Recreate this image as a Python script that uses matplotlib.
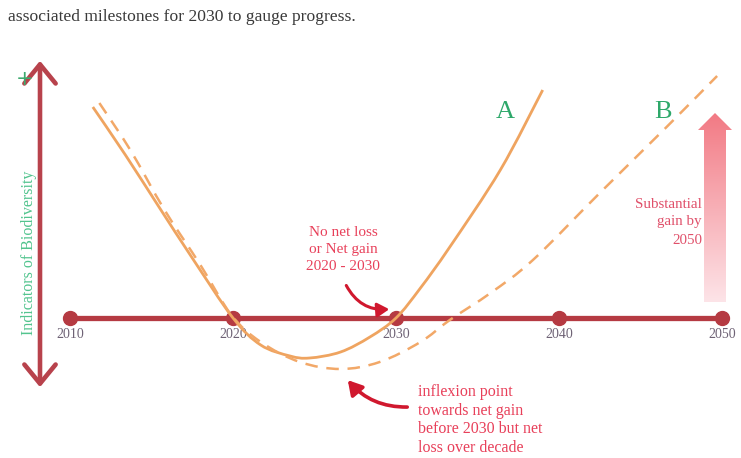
import numpy as np
import matplotlib
matplotlib.use("Agg")
import matplotlib.pyplot as plt
from matplotlib.patches import FancyArrowPatch, Polygon, PathPatch
from matplotlib.path import Path
from matplotlib.colors import LinearSegmentedColormap

# ---- data (years vs. indicator level) ----
years_a = [2011.4, 2013.4, 2015.5, 2017.5, 2020.0, 2021.7, 2023.5, 2024.7, 2026.6, 2028.4, 2030.0, 2031.5, 2033.3, 2036.4, 2039.0]
vals_a = [2.11, 1.63, 1.10, 0.60, 0.00, -0.27, -0.38, -0.40, -0.34, -0.19, 0.00, 0.30, 0.71, 1.48, 2.28]

years_b = [2011.8, 2013.7, 2015.8, 2018.0, 2019.9, 2021.7, 2024.1, 2026.6, 2029.0, 2031.5, 2033.3, 2035.8, 2038.4, 2042.5, 2046.6, 2049.7]
vals_b = [2.15, 1.68, 1.08, 0.53, 0.03, -0.24, -0.44, -0.51, -0.44, -0.24, -0.02, 0.25, 0.58, 1.25, 1.91, 2.42]

milestones = [2010, 2020, 2030, 2040, 2050]
milestone_labels = ["2010", "2020", "2030", "2040", "2050"]

W, H = 741, 458
fig = plt.figure(figsize=(W / 100, H / 100), dpi=100)
ax = fig.add_axes([0, 0, 1, 1])
PX_PER_YEAR = 16.3
X0_PX = 70
Y0_PX = 318
PX_PER_UNIT = 100.0
XL = (2010 - X0_PX / PX_PER_YEAR, 2010 + (W - X0_PX) / PX_PER_YEAR)
YL = ((Y0_PX - H) / PX_PER_UNIT, Y0_PX / PX_PER_UNIT)
ax.set_xlim(*XL)
ax.set_ylim(*YL)
ax.axis("off")


def P(px, py):
    """pixel position -> data coords (for decorations)"""
    return (2010 + (px - X0_PX) / PX_PER_YEAR, (Y0_PX - py) / PX_PER_UNIT)


def smooth_path(xs, ys):
    """Catmull-Rom rendering of the read points as a cubic Bezier path."""
    pts = np.column_stack([xs, ys]).astype(float)
    verts = [pts[0]]
    codes = [Path.MOVETO]
    n = len(pts)
    for i in range(n - 1):
        p0 = pts[i - 1] if i > 0 else pts[i]
        p1, p2 = pts[i], pts[i + 1]
        p3 = pts[i + 2] if i + 2 < n else pts[i + 1]
        c1 = p1 + (p2 - p0) / 6.0
        c2 = p2 - (p3 - p1) / 6.0
        verts += [c1, c2, p2]
        codes += [Path.CURVE4] * 3
    return Path(verts, codes)


serif = ["Liberation Serif", "DejaVu Serif"]

# header text
fig.text(8 / W, 1 - 17 / H, "associated milestones for 2030 to gauge progress.",
         family=serif, fontsize=12.6, color="#3a3a3a", va="center", ha="left")

# horizontal timeline
axis_col = "#B53A42"
ax.plot([milestones[0], milestones[-1]], [0, 0], color=axis_col, lw=3.8, solid_capstyle="butt", zorder=2)
ax.plot(milestones, [0] * len(milestones), "o", color=axis_col, ms=10, zorder=3)
for yr, lab in zip(milestones, milestone_labels):
    ax.text(yr, P(0, 334)[1], lab, family=serif, fontsize=10, color="#6E6275",
            ha="center", va="center", zorder=4)

# vertical double arrow
va_col = "#B8424C"
ax.add_patch(FancyArrowPatch(P(40, 390), P(40, 58), arrowstyle="<->,head_length=0.55,head_width=0.45",
                             mutation_scale=25, lw=3.3, color=va_col, zorder=2))
ax.text(*P(25, 79), "+", color="#3DAA6E", fontsize=15, ha="center", va="center", family="DejaVu Sans")
ax.text(*P(29, 253), "Indicators of Biodiversity", rotation=90, color="#52C48E",
        fontsize=11.5, ha="center", va="center", family=serif)

# curves
ax.add_patch(PathPatch(smooth_path(years_a, vals_a), facecolor="none", edgecolor="#EFA460",
                       lw=2.0, zorder=5))
ax.add_patch(PathPatch(smooth_path(years_b, vals_b), facecolor="none", edgecolor="#F2A868",
                       lw=1.8, ls=(0, (5, 3.5)), zorder=5))

ax.text(*P(505, 112), "A", color="#2EA86A", fontsize=19, ha="center", va="center", family=serif)
ax.text(*P(663, 112), "B", color="#2EA86A", fontsize=19, ha="center", va="center", family=serif)

# red annotations
red_txt = "#E8405A"
ax.text(*P(343, 250), "No net loss\nor Net gain\n2020 - 2030", color=red_txt, fontsize=11,
        ha="center", va="center", family=serif, linespacing=1.4)
ax.add_patch(FancyArrowPatch(P(345, 283), P(392, 309), connectionstyle="arc3,rad=0.35",
                             arrowstyle="-|>,head_length=0.5,head_width=0.3", mutation_scale=14,
                             lw=2.2, color="#D0182E", zorder=6))

ax.text(*P(418, 420), "inflexion point\ntowards net gain\nbefore 2030 but net\nloss over decade",
        color=red_txt, fontsize=11.5, ha="left", va="center", family=serif, linespacing=1.2)
ax.add_patch(FancyArrowPatch(P(410, 407), P(346, 378), connectionstyle="arc3,rad=-0.25",
                             arrowstyle="-|>,head_length=0.6,head_width=0.35", mutation_scale=14,
                             lw=2.6, color="#D0182E", zorder=6))

ax.text(*P(702, 222), "Substantial\ngain by\n2050", color="#E0506A", fontsize=10.8,
        ha="right", va="center", family=serif, linespacing=1.5)

# gradient arrow (substantial gain)
cx, top, bot = 715, 113, 302
sw, hw, hl = 11, 17, 17
verts_px = [(cx - sw, bot), (cx - sw, top + hl), (cx - hw, top + hl), (cx, top),
            (cx + hw, top + hl), (cx + sw, top + hl), (cx + sw, bot)]
poly = Polygon([P(*v) for v in verts_px], closed=True, facecolor="none", edgecolor="none")
ax.add_patch(poly)
grad = np.linspace(0, 1, 256).reshape(-1, 1)
cmap = LinearSegmentedColormap.from_list("g", ["#FDE4E8", "#F27A84"])
x0d, ytop = P(cx - hw, top)
x1d, ybot = P(cx + hw, bot)
im = ax.imshow(grad, cmap=cmap, extent=[x0d, x1d, ybot, ytop], origin="lower",
               aspect="auto", zorder=4)
im.set_clip_path(poly)

ax.set_xlim(*XL)
ax.set_ylim(*YL)

fig.savefig("out.png", dpi=100, facecolor="white")
